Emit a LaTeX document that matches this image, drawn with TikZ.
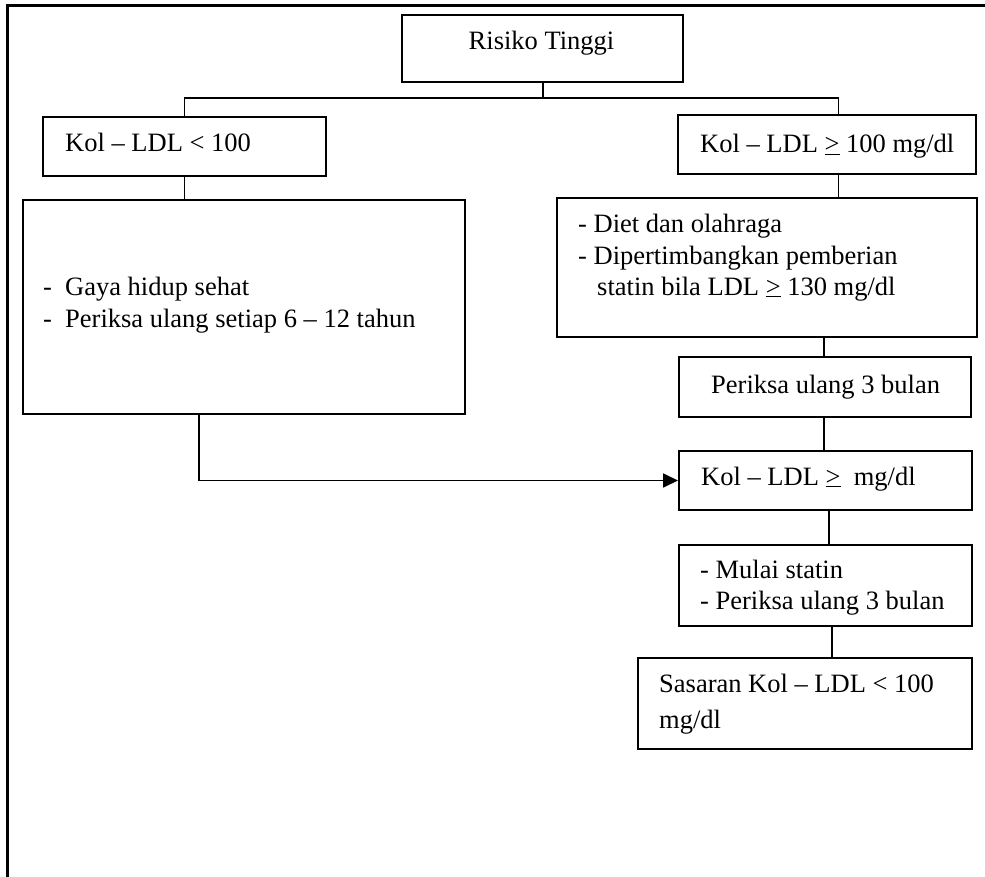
\documentclass[tikz,border=0pt]{standalone}
\usepackage{fontspec}
\setmainfont{Liberation Serif}
\usetikzlibrary{arrows.meta}
\begin{document}
\begin{tikzpicture}[x=1pt,y=-1pt,
  box/.style={draw, line width=2pt, rectangle, inner sep=0pt},
  conn/.style={line width=1.8pt},
  txt/.style={anchor=base west, inner sep=0pt, font=\fontsize{26.5}{31}\selectfont},
  txtc/.style={anchor=base, inner sep=0pt, font=\fontsize{26.5}{31}\selectfont}]
\useasboundingbox (0,0) rectangle (985,877);
% outer frame (open at right and bottom)
\draw[line width=3pt] (985,6) -- (7,6) -- (7,877);
% boxes
\node[box, minimum width=281pt, minimum height=67pt] (risk) at (542.5,48.5) {};
\node[box, minimum width=283pt, minimum height=59pt] (k1) at (184.5,146.5) {};
\node[box, minimum width=298pt, minimum height=59pt] (k2) at (827,144.5) {};
\node[box, minimum width=442pt, minimum height=214pt] (life) at (244,307) {};
\node[box, minimum width=420pt, minimum height=139pt] (diet) at (767,267.5) {};
\node[box, minimum width=292pt, minimum height=60pt] (per) at (825,387) {};
\node[box, minimum width=293pt, minimum height=59pt] (k3) at (825.5,480.5) {};
\node[box, minimum width=293pt, minimum height=81pt] (statin) at (825.5,585.5) {};
\node[box, minimum width=334pt, minimum height=91pt] (goal) at (805,703.5) {};
% texts
\node[txtc] (trisk) at (541.5,50) {Risiko Tinggi};
\node[txt] (tk1) at (65,152) {Kol -- LDL < 100};
\node[txt] (tk2) at (700,153) {Kol -- LDL \underline{>} 100 mg/dl};
\node[txt] (tl1a) at (43,295) {-};
\node[txt] (tl1b) at (65,295) {Gaya hidup sehat};
\node[txt] (tl2a) at (43,327) {-};
\node[txt] (tl2b) at (65,327) {Periksa ulang setiap 6 -- 12 tahun};
\node[txt] (td1) at (578,233) {- Diet dan olahraga};
\node[txt] (td2) at (578,265) {- Dipertimbangkan pemberian};
\node[txt] (td3) at (597,295) {statin bila LDL \underline{>} 130 mg/dl};
\node[txt] (tper) at (711,393) {Periksa ulang 3 bulan};
\node[txt] (tk3) at (701,485) {Kol -- LDL \underline{>}\ \ mg/dl};
\node[txt] (ts1) at (700,578) {- Mulai statin};
\node[txt] (ts2) at (700,609) {- Periksa ulang 3 bulan};
\node[txt] (tg1) at (659,692) {Sasaran Kol -- LDL < 100};
\node[txt] (tg2) at (659,728) {mg/dl};
% connectors
\coordinate (jl) at (185,98);
\coordinate (jr) at (838.5,98);
\coordinate (c1) at (824,0);
\coordinate (c2) at (829,0);
\coordinate (c3) at (832,0);
\coordinate (a) at (199,0);
\draw[conn] (risk.south -| 543,0) -- (543,98);
\draw[conn] (k1.north) -- (k1.north |- jl) -- (jr) -- (jr |- k2.north);
\draw[conn] (k1.south) -- (k1.south |- life.north);
\draw[conn] (jr |- k2.south) -- (jr |- diet.north);
\draw[conn] (c1 |- diet.south) -- (c1 |- per.north);
\draw[conn] (c1 |- per.south) -- (c1 |- k3.north);
\draw[conn] (c2 |- k3.south) -- (c2 |- statin.north);
\draw[conn] (c3 |- statin.south) -- (c3 |- goal.north);
\draw[conn, -{Triangle[length=15pt,width=14pt]}] (a |- life.south) |- (k3.west);
\end{tikzpicture}
\end{document}
